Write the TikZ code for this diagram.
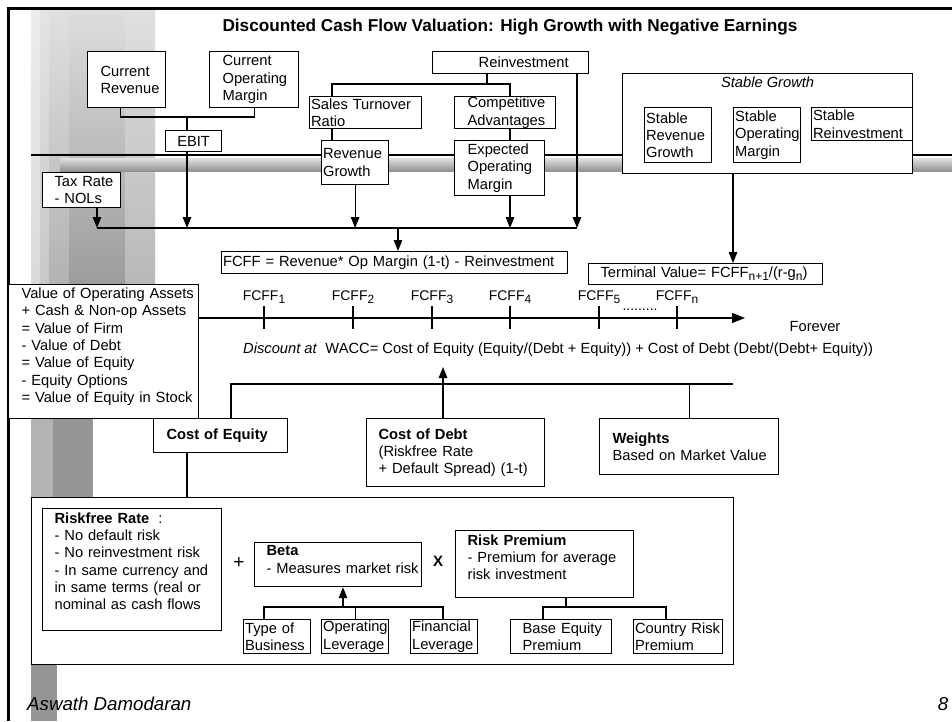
\documentclass[tikz,border=0pt]{standalone}
\usepackage{fontspec}
\setmainfont{Liberation Sans}
\usetikzlibrary{arrows.meta,calc}
\newcommand\mybody{\fontsize{14.7}{17.3}\selectfont}
\newcommand\sbs[1]{\raisebox{-3pt}{\fontsize{12}{12}\selectfont #1}}
\definecolor{gA1}{RGB}{236,236,236}\definecolor{gA2}{RGB}{218,218,218}
\definecolor{gB1}{RGB}{228,228,228}\definecolor{gB2}{RGB}{200,200,200}
\definecolor{gC1}{RGB}{224,224,224}\definecolor{gC2}{RGB}{178,178,178}
\definecolor{gD1}{RGB}{222,222,222}\definecolor{gD2}{RGB}{156,156,156}
\definecolor{gE1}{RGB}{224,224,224}\definecolor{gE2}{RGB}{184,184,184}
\definecolor{gL}{RGB}{180,180,180}\definecolor{gM}{RGB}{150,150,150}
\definecolor{bar1}{RGB}{226,226,226}\definecolor{bar2}{RGB}{146,146,146}
\begin{document}
\begin{tikzpicture}[x=1pt,y=-1pt,
  every node/.style={font=\mybody, inner sep=0pt},
  bx/.style={draw, fill=white, line width=1.2pt, anchor=north west, align=left, inner ysep=0pt},
  ln/.style={line width=1.2pt},
  arr/.style={line width=1.2pt, -{Triangle[length=11pt,width=8.5pt]}},
  tlarr/.style={line width=1.2pt, -{Triangle[length=13pt,width=10pt]}},
  fl/.style={font=\fontsize{14}{16}\selectfont, anchor=base},
]
\useasboundingbox (0,0) rectangle (952,721);
\fill[white] (0,0) rectangle (952,721);
% background decoration
\shade[top color=gA1, bottom color=gA2] (31,8) rectangle (40,284);
\shade[top color=gB1, bottom color=gB2] (40,8) rectangle (49,284);
\shade[top color=gC1, bottom color=gC2] (49,8) rectangle (69,284);
\shade[top color=gD1, bottom color=gD2] (69,8) rectangle (125,284);
\shade[top color=gE1, bottom color=gE2] (125,8) rectangle (155,284);
\fill[gL] (31,418) rectangle (53,497);
\fill[gM] (53,418) rectangle (93,497);
\fill[gM] (31,664) rectangle (57,721);
\draw[line width=1.2pt] (31,155) -- (952,155);
\shade[top color=bar1, bottom color=bar2] (60,158) rectangle (952,171);
\draw[line width=2.6pt] (6.7,8.3) -- (952,8.3);
\draw[line width=2.6pt] (8.3,6.7) -- (8.3,721);

% title
\node[font=\bfseries\fontsize{17.2}{20}\selectfont] (title) at (510,27) {Discounted Cash Flow Valuation: High Growth with Negative Earnings};

% top boxes
\node[bx, inner xsep=13pt, text width=52pt, minimum height=56pt] (currev) at (87,51) {Current\\Revenue};
\node[bx, inner xsep=13pt, text width=63pt, minimum height=56pt] (curmar) at (209,51) {Current\\Operating\\Margin};
\node[bx, align=center, inner xsep=0pt, text width=56pt, minimum height=21pt] (ebit) at (165,130) {EBIT};
\node[bx, inner xsep=12pt, text width=54pt, minimum height=35pt] (tax) at (42,172) {\mbox{Tax Rate}\\\mbox{- NOLs}};
\node[bx, align=right, inner xsep=20pt, text width=116pt, minimum height=22pt] (reinv) at (432,51) {Reinvestment};
\node[bx, inner xsep=1.5pt, text width=109pt, minimum height=32pt] (sto) at (309,96) {\mbox{Sales Turnover}\\Ratio};
\node[bx, inner xsep=13pt, text width=75pt, minimum height=32pt] (comp) at (454,96) {Competitive\\Advantages};
\node[bx, inner xsep=1.5pt, text width=64pt, minimum height=44pt] (revg) at (321,140) {Revenue\\Growth};
\node[bx, inner xsep=13pt, text width=64pt, minimum height=55pt] (eom) at (454,140) {Expected\\Operating\\Margin};

% stable growth
\node[draw, fill=white, line width=1.2pt, anchor=north west, minimum width=290pt, minimum height=100pt,
  label={[anchor=north, yshift=-4pt, font=\mybody\itshape]north:Stable Growth}] (sg) at (622,73) {};
\node[bx, inner xsep=1.5pt, text width=64pt, minimum height=55pt] (srg) at (644,107) {Stable\\Revenue\\Growth};
\node[bx, inner xsep=1.5pt, text width=64pt, minimum height=55pt] (som) at (733,107) {Stable\\Operating\\Margin};
\node[bx, inner xsep=1.5pt, text width=98pt, minimum height=33pt] (sri) at (811,107) {Stable\\Reinvestment};

% FCFF & terminal
\node[bx, inner xsep=1.5pt, text width=343pt, minimum height=22pt] (fcff) at (221,251) {\mbox{FCFF = Revenue* Op Margin (1-t) - Reinvestment}};
\node[bx, inner xsep=12pt, text width=210pt, minimum height=21pt] (tv) at (588,263) {\mbox{Terminal Value= FCFF\sbs{n+1}/(r-g\sbs{n})}};

% value box
\node[bx, inner xsep=13pt, text width=164pt, minimum height=134pt] (value) at (8,284) {\mbox{Value of Operating Assets}\\\mbox{+ Cash \& Non-op Assets}\\\mbox{= Value of Firm}\\\mbox{- Value of Debt}\\\mbox{= Value of Equity}\\\mbox{- Equity Options}\\\mbox{= Value of Equity in Stock}\par\kern10pt};

% timeline labels
\node[fl] (f1) at (264,300) {FCFF\sbs{1}};
\node[fl] (f2) at (353,300) {FCFF\sbs{2}};
\node[fl] (f3) at (432,300) {FCFF\sbs{3}};
\node[fl] (f4) at (510,300) {FCFF\sbs{4}};
\node[fl] (f5) at (599,300) {FCFF\sbs{5}};
\node[fl] (fn) at (677,300) {FCFF\sbs{n}};
\node[fl] (dots) at (640,310) {.........};
\node (forever) at (815,327) {Forever};
\node[anchor=west] (disc) at (243,350) {\textit{Discount at}\ \ WACC= Cost of Equity (Equity/(Debt + Equity)) + Cost of Debt (Debt/(Debt+ Equity))};

% WACC components
\node[bx, inner xsep=13pt, text width=108pt, minimum height=34pt] (coe) at (153,418) {\mbox{\textbf{Cost of Equity}}};
\node[bx, inner xsep=12pt, text width=154pt, minimum height=68pt] (cod) at (366,418) {\mbox{\textbf{Cost of Debt}}\\\mbox{(Riskfree Rate}\\\mbox{+ Default Spread) (1-t)}};
\node[bx, inner xsep=13pt, text width=153pt, minimum height=56pt] (wts) at (599,418) {\textbf{Weights}\\\mbox{Based on Market Value}};

% cost of equity detail
\node[draw, fill=white, line width=1.2pt, anchor=north west, minimum width=702pt, minimum height=167pt] (big) at (31,497) {};
\node[bx, inner xsep=12pt, text width=155pt, minimum height=122pt] (rf) at (42,508) {\mbox{\textbf{Riskfree Rate}\hspace{9pt}:}\\\mbox{- No default risk}\\\mbox{- No reinvestment risk}\\\mbox{- In same currency and}\\\mbox{in same terms (real or}\\\mbox{nominal as cash flows}\par\kern17pt};
\node[font=\fontsize{19}{20}\selectfont] (plus) at (239,563) {+};
\node[bx, inner xsep=12pt, text width=143pt, minimum height=44pt] (beta) at (254,542) {\textbf{Beta}\\\mbox{- Measures market risk}\par\kern10pt};
\node[font=\bfseries\fontsize{15}{16}\selectfont] (times) at (438,561) {X};
\node[bx, inner xsep=12pt, text width=154pt, minimum height=67pt] (rp) at (455,530) {\mbox{\textbf{Risk Premium}}\\\mbox{- Premium for average}\\\mbox{risk investment}\par\kern14pt};
\node[bx, inner xsep=1.5pt, text width=64pt, minimum height=34pt] (tob) at (243,619) {\mbox{Type of}\\Business};
\node[bx, inner xsep=1.5pt, text width=64pt, minimum height=34pt] (opl) at (321,619) {Operating\\Leverage};
\node[bx, inner xsep=1.5pt, text width=64pt, minimum height=34pt] (finl) at (410,619) {Financial\\Leverage};
\node[bx, inner xsep=12pt, text width=77pt, minimum height=34pt] (bep) at (510,619) {\mbox{Base Equity}\\Premium};
\node[bx, inner xsep=1.5pt, text width=86pt, minimum height=34pt] (crp) at (633,619) {\mbox{Country Risk}\\Premium};

% footer
\node[anchor=west, font=\itshape\fontsize{18.7}{20}\selectfont] (author) at (27,704) {Aswath Damodaran};
\node[font=\itshape\fontsize{18.7}{20}\selectfont] (page) at (943,704) {8};

% junction coordinates
\coordinate (j1) at (187,117);
\coordinate (busL) at (97,228);
\coordinate (busR) at (577,228);
\coordinate (busM) at (398,228);
\coordinate (rt) at (487,84);
\coordinate (sL) at (332,84);
\coordinate (cR) at (510,84);
\coordinate (sgx) at (733,173);
\coordinate (tlend) at (745,318);
\coordinate (tkT) at (0,306);
\coordinate (tkB) at (0,329);
\coordinate (wx) at (443,367);
\coordinate (hl) at (231,384);
\coordinate (hr) at (733,384);
\coordinate (ce) at (187,452);
\coordinate (bj) at (343,607);
\coordinate (bL) at (264,607);
\coordinate (bR) at (443,607);
\coordinate (rj) at (566,607);
\coordinate (rL) at (543,607);
\coordinate (rR) at (666,607);

% connectors top
\draw[ln] ([xshift=-6pt]currev.south) |- (j1) -| (curmar.south);
\draw[ln] (j1) -- (j1 |- ebit.north);
\draw[arr] (j1 |- ebit.south) -- (j1 |- busL);
\draw[arr] (tax.south -| busL) -- (busL);
\draw[ln] (busL) -- (busR);
\draw[arr] (revg.south) -- (revg.south |- busL);
\draw[arr] (cR |- eom.south) -- (cR |- busL);
\draw[arr] (reinv.south -| busR) -- (busR);
\draw[arr] (busM) -- (busM |- fcff.north);
\draw[ln] (reinv.south -| rt) -- (rt);
\draw[ln] (sL |- sto.north) -- (sL) -- (cR) -- (cR |- comp.north);
\draw[ln] (sL |- sto.south) -- (sL |- revg.north);
\draw[ln] (cR |- comp.south) -- (cR |- eom.north);
\draw[arr] (sgx) -- (sgx |- tv.north);

% timeline
\draw[tlarr] (tlend -| value.east) -- (tlend);
\foreach \f in {f1,f2,f3,f4,f5,fn} { \draw[ln] (\f |- tkT) -- (\f |- tkB); }

% WACC connectors
\draw[ln] (hl |- coe.north) -- (hl) -- (hr);
\draw[ln] (wts.north |- hl) -- (wts.north);
\draw[arr] (wx |- cod.north) -- (wx);
\draw[ln] (ce |- coe.south) -- (ce |- big.north);

% beta & risk premium trees
\draw[arr] (bj) -- (bj |- beta.south);
\draw[ln] (bL |- tob.north) -- (bL) -- (bR) -- (bR |- finl.north);
\draw[ln] (opl.north |- bj) -- (opl.north);
\draw[ln] (rj |- rp.south) -- (rj);
\draw[ln] (rL |- bep.north) -- (rL) -- (rR) -- (rR |- crp.north);
\end{tikzpicture}
\end{document}
